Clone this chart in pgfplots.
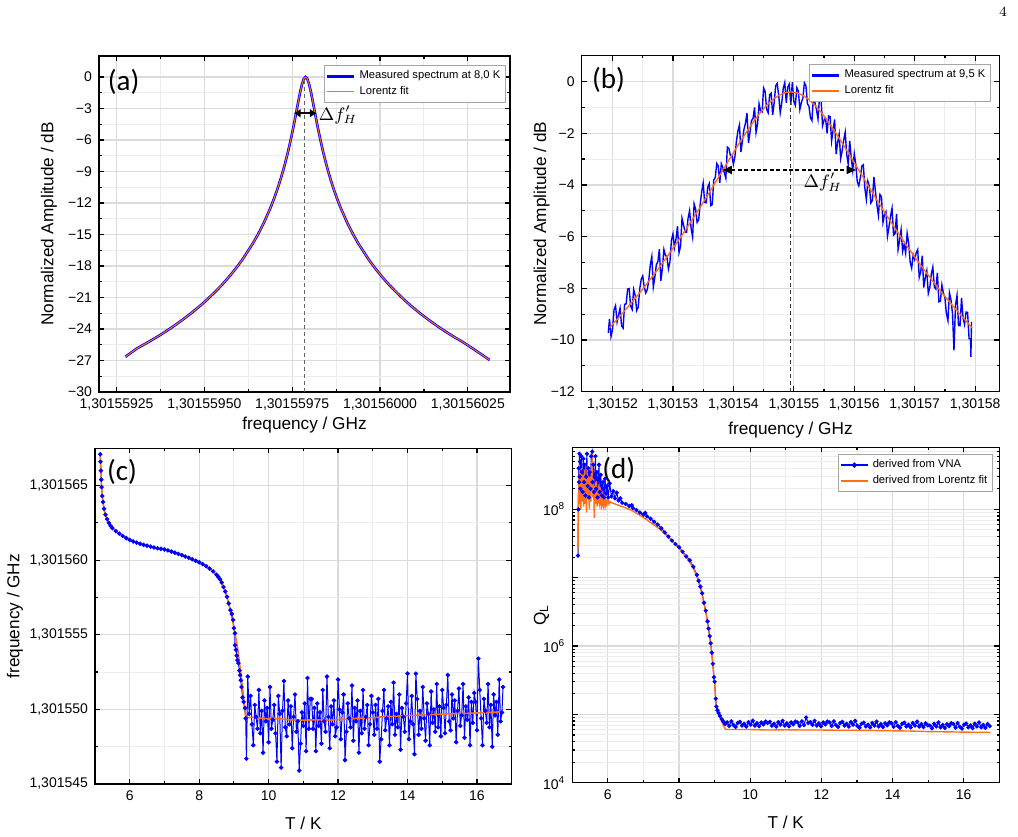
\documentclass[border=0pt]{standalone}
\usepackage{pgfplots}
\pgfplotsset{compat=1.18}
\usepackage{fontspec}
\setmainfont{Liberation Sans}
\newfontfamily\calibri{Carlito}
\usetikzlibrary{arrows.meta}
\definecolor{myblue}{RGB}{0,0,255}
\definecolor{myorange}{RGB}{255,110,25}
\pgfplotsset{
 base/.style={
  scale only axis, anchor=south west,
  axis line style={black, line width=0.7pt},
  tick style={black, line width=0.6pt},
  tick align=inside, major tick length=2.6pt, minor tick length=1.4pt,
  grid=both,
  major grid style={draw=gray!28, line width=0.6pt},
  minor grid style={draw=gray!14, line width=0.45pt},
  tick label style={font=\fontsize{7}{8}\selectfont},
  label style={font=\fontsize{8.6}{10}\selectfont},
  legend cell align=left,
  legend style={font=\fontsize{5.6}{6.5}\selectfont, draw=gray!70, line width=0.4pt, inner sep=0.6pt, row sep=-1.8pt, fill=white},
  legend image code/.code={\draw[mark repeat=2,mark phase=2,#1] plot coordinates {(0pt,0pt) (6.75pt,0pt) (13.5pt,0pt)};},
  /pgf/number format/assume math mode=true,
 },
}
\tikzset{plab/.style={font=\calibri\fontsize{14.5}{16}\selectfont, anchor=center}}
\begin{document}
\begin{tikzpicture}
\useasboundingbox (0,0) rectangle (509pt,418pt);
\node[font=\fontsize{7.5}{9}\selectfont] at (501.5pt,412pt) {$4$};

% ---------------- (a)
\begin{axis}[base, at={(49.5pt,222pt)}, width=205.5pt, height=168pt,
  xmin=20, xmax=137, ymin=-30, ymax=2,
  xtick={25,50,75,100,125},
  xticklabels={{1,30155925},{1,30155950},{1,30155975},{1,30156000},{1,30156025}},
  ytick={-30,-27,-24,-21,-18,-15,-12,-9,-6,-3,0},
  yticklabels={−30,−27,−24,−21,−18,−15,−12,−9,−6,−3,0},
  minor x tick num=1, minor y tick num=1,
  xlabel={frequency / GHz}, ylabel={Normalized Amplitude / dB},
  xlabel style={at={(axis description cs:0.5,-0.098)}, anchor=center},
  ylabel style={at={(axis description cs:-0.122,0.5)}, anchor=center},
  legend style={at={(0.99,0.973)}, anchor=north east},
]
\addlegendimage{color=myblue, line width=1.4pt}
\addlegendentry{Measured spectrum at 8,0 K}
\addlegendimage{color=myorange, line width=0.7pt}
\addlegendentry{Lorentz fit}
\addplot[forget plot, color=myblue, line width=1.3pt] coordinates {
(27.5,-26.65) (30.8,-25.85) (33.8,-25.29) (36.3,-24.80) (38.8,-24.28) (41.3,-23.72) (43.8,-23.12) (46.3,-22.48) (48.8,-21.79) (50.8,-21.19) (52.8,-20.55) (54.8,-19.87) (56.8,-19.12) (58.8,-18.30) (60.8,-17.40) (63.8,-15.85) (65.3,-14.96) (66.8,-13.98) (68.8,-12.47) (69.8,-11.61) (70.8,-10.67) (71.8,-9.62) (72.8,-8.45) (73.8,-7.13) (74.8,-5.64) (75.3,-4.83) (75.8,-3.98) (76.3,-3.10) (76.8,-2.22) (77.3,-1.38) (77.8,-0.67) (78.3,-0.18) (78.8,0) (79.3,-0.18) (79.8,-0.67) (80.3,-1.38) (80.8,-2.22) (81.3,-3.10) (81.8,-3.98) (82.3,-4.83) (82.8,-5.64) (83.8,-7.13) (84.8,-8.45) (85.8,-9.62) (86.8,-10.67) (87.8,-11.61) (88.8,-12.47) (90.8,-13.98) (92.3,-14.96) (93.8,-15.85) (96.8,-17.40) (98.8,-18.30) (100.8,-19.12) (102.8,-19.87) (104.8,-20.55) (106.8,-21.19) (108.8,-21.79) (111.3,-22.48) (113.8,-23.12) (116.3,-23.72) (118.8,-24.28) (121.3,-24.80) (123.8,-25.29) (126.8,-25.95) (131.2,-26.95)
};
\addplot[forget plot, color=myorange, line width=0.5pt] coordinates {
(27.5,-26.65) (30.8,-25.85) (33.8,-25.29) (36.3,-24.80) (38.8,-24.28) (41.3,-23.72) (43.8,-23.12) (46.3,-22.48) (48.8,-21.79) (50.8,-21.19) (52.8,-20.55) (54.8,-19.87) (56.8,-19.12) (58.8,-18.30) (60.8,-17.40) (63.8,-15.85) (65.3,-14.96) (66.8,-13.98) (68.8,-12.47) (69.8,-11.61) (70.8,-10.67) (71.8,-9.62) (72.8,-8.45) (73.8,-7.13) (74.8,-5.64) (75.3,-4.83) (75.8,-3.98) (76.3,-3.10) (76.8,-2.22) (77.3,-1.38) (77.8,-0.67) (78.3,-0.18) (78.8,0) (79.3,-0.18) (79.8,-0.67) (80.3,-1.38) (80.8,-2.22) (81.3,-3.10) (81.8,-3.98) (82.3,-4.83) (82.8,-5.64) (83.8,-7.13) (84.8,-8.45) (85.8,-9.62) (86.8,-10.67) (87.8,-11.61) (88.8,-12.47) (90.8,-13.98) (92.3,-14.96) (93.8,-15.85) (96.8,-17.40) (98.8,-18.30) (100.8,-19.12) (102.8,-19.87) (104.8,-20.55) (106.8,-21.19) (108.8,-21.79) (111.3,-22.48) (113.8,-23.12) (116.3,-23.72) (118.8,-24.28) (121.3,-24.80) (123.8,-25.29) (126.8,-25.95) (131.2,-26.95)
};
\draw[gray!80!black, line width=0.6pt, dash pattern=on 2pt off 1.5pt] (axis cs:78.5,-30) -- (axis cs:78.5,-0.3);
\draw[black, line width=1pt, {Latex[length=3.5pt,width=4.5pt]}-{Latex[length=3.5pt,width=4.5pt]}] (axis cs:75.4,-3.45) -- (axis cs:82.0,-3.45);
\node[anchor=west, font=\fontsize{9}{10}\selectfont, inner sep=0.5pt] at (axis cs:82.2,-3.6) {$\Delta f'_H$};
\node[plab] at (rel axis cs:0.06,0.924) {(a)};
\end{axis}

% ---------------- (b)
\begin{axis}[base, at={(290.85pt,222.15pt)}, width=208.8pt, height=168pt,
  xmin=1.49, xmax=8.40, ymin=-12, ymax=1,
  xtick={2,3,4,5,6,7,8},
  xticklabels={{1,30152},{1,30153},{1,30154},{1,30155},{1,30156},{1,30157},{1,30158}},
  ytick={-12,-10,-8,-6,-4,-2,0},
  yticklabels={−12,−10,−8,−6,−4,−2,0},
  minor x tick num=1, minor y tick num=1,
  xlabel={frequency / GHz}, ylabel={Normalized Amplitude / dB},
  xlabel style={at={(axis description cs:0.5,-0.114)}, anchor=center},
  ylabel style={at={(axis description cs:-0.096,0.5)}, anchor=center},
  legend style={at={(0.98,0.975)}, anchor=north east},
]
\addlegendimage{color=myblue, line width=1.3pt}
\addlegendentry{Measured spectrum at 9,5 K}
\addlegendimage{color=myorange, line width=0.9pt}
\addlegendentry{Lorentz fit}
\addplot[forget plot, color=myblue, line width=0.7pt] coordinates {
(1.93,-9.72) (1.95,-9.18) (1.975,-9.86) (2.00,-9.60) (2.025,-8.83) (2.05,-8.67) (2.075,-9.30) (2.10,-9.04) (2.125,-8.77) (2.15,-9.45) (2.175,-9.54) (2.20,-8.62) (2.225,-8.60) (2.25,-8.03) (2.275,-8.01) (2.30,-8.69) (2.325,-8.82) (2.35,-8.05) (2.375,-8.28) (2.40,-8.86) (2.425,-8.74) (2.45,-8.02) (2.475,-7.65) (2.50,-7.52) (2.525,-7.95) (2.55,-8.18) (2.575,-8.05) (2.60,-7.68) (2.625,-7.10) (2.65,-6.77) (2.675,-7.95) (2.70,-7.57) (2.725,-7.09) (2.75,-6.97) (2.775,-6.49) (2.80,-7.71) (2.825,-7.23) (2.85,-6.50) (2.875,-6.72) (2.90,-6.79) (2.925,-7.25) (2.95,-6.97) (2.975,-6.14) (3.00,-5.90) (3.025,-6.42) (3.05,-6.09) (3.075,-5.60) (3.10,-6.62) (3.125,-6.38) (3.15,-5.29) (3.175,-5.55) (3.20,-5.82) (3.225,-5.83) (3.25,-5.29) (3.275,-5.00) (3.30,-5.66) (3.325,-6.02) (3.35,-4.73) (3.375,-4.94) (3.40,-5.45) (3.425,-5.35) (3.45,-4.76) (3.475,-4.27) (3.50,-3.93) (3.525,-4.68) (3.55,-4.69) (3.575,-4.09) (3.60,-3.95) (3.625,-4.80) (3.65,-4.76) (3.675,-3.81) (3.70,-3.71) (3.725,-3.17) (3.75,-3.27) (3.775,-3.92) (3.80,-3.18) (3.825,-3.33) (3.85,-3.53) (3.875,-3.74) (3.90,-2.54) (3.925,-2.59) (3.95,-2.85) (3.975,-2.85) (4.00,-3.20) (4.025,-2.91) (4.05,-2.31) (4.075,-1.92) (4.10,-1.68) (4.125,-2.73) (4.15,-2.29) (4.175,-1.85) (4.20,-1.61) (4.225,-1.22) (4.25,-2.38) (4.275,-1.95) (4.30,-1.51) (4.325,-1.43) (4.35,-1.00) (4.375,-1.97) (4.40,-1.64) (4.425,-0.86) (4.45,-1.14) (4.475,-1.17) (4.50,-0.25) (4.525,-0.39) (4.55,-1.07) (4.575,-1.21) (4.60,-0.51) (4.625,-0.45) (4.65,-1.30) (4.675,-0.81) (4.70,-0.16) (4.725,-0.07) (4.75,-0.54) (4.775,-1.21) (4.80,-0.83) (4.825,-0.26) (4.85,-0.04) (4.875,-0.82) (4.90,-0.21) (4.925,-0.10) (4.95,-0.90) (4.975,-0.02) (5.00,-0.76) (5.025,-0.92) (5.05,-0.24) (5.075,-0.36) (5.10,-1.08) (5.125,-0.81) (5.15,-0.64) (5.175,-0.05) (5.20,-0.16) (5.225,-0.86) (5.25,-0.95) (5.275,-1.40) (5.30,-1.51) (5.325,-0.56) (5.35,-0.82) (5.375,-1.09) (5.40,-1.45) (5.425,-0.62) (5.45,-0.64) (5.475,-1.71) (5.50,-1.49) (5.525,-1.42) (5.55,-2.00) (5.575,-1.33) (5.60,-1.36) (5.625,-2.30) (5.65,-1.88) (5.675,-1.47) (5.70,-2.81) (5.725,-2.35) (5.75,-2.04) (5.775,-2.98) (5.80,-2.68) (5.825,-2.27) (5.85,-1.96) (5.875,-2.81) (5.90,-3.20) (5.925,-2.30) (5.95,-2.95) (5.975,-3.44) (6.00,-2.79) (6.025,-3.19) (6.05,-3.88) (6.075,-4.03) (6.10,-3.73) (6.125,-3.27) (6.15,-3.22) (6.175,-4.12) (6.20,-4.56) (6.225,-3.86) (6.25,-4.06) (6.275,-4.70) (6.30,-4.60) (6.325,-3.69) (6.35,-4.24) (6.375,-4.78) (6.40,-5.18) (6.425,-4.37) (6.45,-4.46) (6.475,-5.45) (6.50,-5.15) (6.525,-5.04) (6.55,-5.98) (6.575,-5.62) (6.60,-5.21) (6.625,-4.90) (6.65,-5.94) (6.675,-5.88) (6.70,-5.12) (6.725,-6.50) (6.75,-6.14) (6.775,-5.73) (6.80,-6.57) (6.825,-6.30) (6.85,-6.64) (6.875,-5.87) (6.90,-6.25) (6.925,-6.99) (6.95,-7.22) (6.975,-6.70) (7.00,-6.89) (7.025,-6.62) (7.05,-6.50) (7.075,-7.58) (7.10,-7.36) (7.125,-6.74) (7.15,-7.97) (7.175,-7.59) (7.20,-7.32) (7.225,-8.20) (7.25,-7.97) (7.275,-7.45) (7.30,-7.18) (7.325,-7.95) (7.35,-8.03) (7.375,-7.40) (7.40,-8.52) (7.425,-8.50) (7.45,-7.87) (7.475,-8.19) (7.50,-8.36) (7.525,-8.98) (7.55,-9.25) (7.575,-8.17) (7.60,-8.44) (7.625,-8.96) (7.65,-10.4) (7.675,-8.65) (7.70,-8.27) (7.725,-9.44) (7.75,-9.45) (7.775,-8.37) (7.80,-9.14) (7.825,-9.40) (7.85,-8.92) (7.875,-8.93) (7.90,-9.95) (7.925,-9.96) (7.93,-10.65) (7.94,-9.3)
};
\addplot[forget plot, color=myorange, line width=0.7pt] coordinates {
(1.95,-9.525) (2.05,-9.267) (2.15,-9.003) (2.25,-8.732) (2.35,-8.454) (2.45,-8.169) (2.55,-7.876) (2.65,-7.574) (2.75,-7.265) (2.85,-6.947) (2.95,-6.621) (3.05,-6.286) (3.15,-5.942) (3.25,-5.590) (3.35,-5.230) (3.45,-4.862) (3.55,-4.487) (3.65,-4.106) (3.75,-3.720) (3.85,-3.333) (3.95,-2.946) (4.05,-2.564) (4.15,-2.190) (4.25,-1.832) (4.35,-1.496) (4.45,-1.189) (4.55,-0.922) (4.65,-0.701) (4.75,-0.536) (4.85,-0.435) (4.95,-0.400) (5.05,-0.435) (5.15,-0.536) (5.25,-0.701) (5.35,-0.922) (5.45,-1.189) (5.55,-1.496) (5.65,-1.832) (5.75,-2.190) (5.85,-2.564) (5.95,-2.946) (6.05,-3.333) (6.15,-3.720) (6.25,-4.106) (6.35,-4.487) (6.45,-4.862) (6.55,-5.230) (6.65,-5.590) (6.75,-5.942) (6.85,-6.286) (6.95,-6.621) (7.05,-6.947) (7.15,-7.265) (7.25,-7.574) (7.35,-7.876) (7.45,-8.169) (7.55,-8.454) (7.65,-8.732) (7.75,-9.003) (7.85,-9.267) (7.95,-9.525)
};
\draw[black!80, line width=0.6pt, dash pattern=on 2pt off 1.5pt] (axis cs:4.945,-12) -- (axis cs:4.945,-0.4);
\draw[black, line width=0.6pt, dash pattern=on 2pt off 1.2pt, {Latex[length=5pt,width=4.5pt]}-{Latex[length=5pt,width=4.5pt]}] (axis cs:3.81,-3.42) -- (axis cs:6.04,-3.42);
\node[anchor=center, font=\fontsize{9}{10}\selectfont] at (axis cs:5.48,-3.9) {$\Delta f'_H$};
\node[plab] at (rel axis cs:0.064,0.928) {(b)};
\end{axis}

% ---------------- (c)
\begin{axis}[base, at={(47.5pt,26pt)}, width=208.35pt, height=167.85pt,
  xmin=5, xmax=17, ymin=45, ymax=67.5,
  xtick={6,8,10,12,14,16},
  ytick={45,50,55,60,65},
  yticklabels={{1,301545},{1,301550},{1,301555},{1,301560},{1,301565}},
  minor x tick num=1, minor y tick num=1,
  xlabel={T / K}, ylabel={frequency / GHz},
  xlabel style={at={(axis description cs:0.5,-0.116)}, anchor=center},
  ylabel style={at={(axis description cs:-0.192,0.5)}, anchor=center},
]
\addplot[color=myblue, line width=0.5pt, mark=*, mark size=0.85pt, mark options={fill=myblue, draw=myblue}] coordinates {
(5.15,67.1) (5.16,66.6) (5.17,66.0) (5.18,65.4) (5.19,64.9) (5.21,64.3) (5.23,63.9) (5.26,63.45) (5.30,63.05) (5.35,62.75) (5.40,62.5) (5.45,62.3) (5.50,62.15) (5.60,61.95) (5.70,61.78) (5.80,61.62) (5.90,61.48) (6.00,61.36) (6.10,61.26) (6.20,61.18) (6.30,61.10) (6.40,61.03) (6.50,60.97) (6.60,60.91) (6.70,60.85) (6.80,60.80) (6.90,60.76) (7.00,60.72) (7.10,60.66) (7.20,60.58) (7.30,60.50) (7.40,60.42) (7.50,60.34) (7.60,60.25) (7.70,60.16) (7.80,60.06) (7.90,59.96) (8.00,59.86) (8.10,59.74) (8.20,59.60) (8.30,59.44) (8.40,59.25) (8.50,59.02) (8.55,58.88) (8.60,58.72) (8.65,58.50) (8.70,58.20) (8.75,57.90) (8.80,57.55) (8.85,57.10) (8.90,56.65) (8.94,56.40) (8.98,56.00) (9.00,55.45) (9.03,55.10) (9.03,54.30) (9.06,54.00) (9.08,53.60) (9.10,53.30) (9.13,53.10) (9.16,52.60) (9.18,52.30) (9.20,51.95) (9.22,51.50) (9.25,50.80) (9.28,50.50) (9.32,50.10) (9.34,49.40)
(9.36,46.7) (9.40,52.2) (9.44,49.7) (9.48,50.9) (9.52,49.0) (9.56,47.6) (9.60,50.3) (9.64,49.5) (9.68,48.7) (9.72,51.3) (9.76,48.4) (9.80,49.9) (9.84,47.1) (9.88,50.6) (9.92,49.2) (9.96,50.1) (10.00,47.8) (10.04,51.5) (10.08,48.7) (10.12,49.3) (10.16,50.3) (10.20,48.4) (10.24,46.5) (10.28,50.9) (10.32,49.7) (10.36,46.1) (10.40,49.9) (10.44,51.9) (10.48,48.8) (10.52,48.2) (10.56,50.6) (10.60,49.0) (10.64,50.2) (10.68,47.4) (10.72,49.5) (10.76,51.0) (10.80,48.5) (10.84,49.2) (10.88,45.9) (10.92,47.7) (10.96,49.8) (11.00,48.9) (11.04,50.4) (11.08,47.2) (11.12,52.1) (11.16,48.7) (11.20,50.7)
(11.24,50.7) (11.28,48.7) (11.32,50.1) (11.36,47.2) (11.40,50.4) (11.44,48.9) (11.48,49.8) (11.52,47.7) (11.56,51.3) (11.60,49.2) (11.64,48.5) (11.68,52.2) (11.72,49.5) (11.76,47.4) (11.80,50.2) (11.84,49.0) (11.88,50.6) (11.92,48.2) (11.96,48.8) (12.00,52.0) (12.04,50.0) (12.08,48.0) (12.12,49.8) (12.16,51.0) (12.20,46.6) (12.24,48.5) (12.28,50.4) (12.32,49.4) (12.36,48.8) (12.40,51.6) (12.44,47.9) (12.48,50.1) (12.52,49.2) (12.56,50.6) (12.60,47.1) (12.64,49.9) (12.68,48.4) (12.72,51.3) (12.76,48.7) (12.80,49.5) (12.84,50.3) (12.88,47.6) (12.92,49.0) (12.96,50.9) (13.00,49.8) (13.04,48.3) (13.08,50.3)
(13.12,48.7) (13.16,50.7) (13.20,46.5) (13.24,48.0) (13.28,49.9) (13.32,51.3) (13.36,48.6) (13.40,49.4) (13.44,50.2) (13.48,47.6) (13.52,50.5) (13.56,49.0) (13.60,51.8) (13.64,48.3) (13.68,49.7) (13.72,48.8) (13.76,51.0) (13.80,47.3) (13.84,50.1) (13.88,49.5) (13.92,48.5) (13.96,50.4) (14.00,52.4) (14.04,48.0) (14.08,49.2) (14.12,50.9) (14.16,49.0) (14.20,47.0) (14.24,52.4) (14.28,50.7) (14.32,48.3) (14.36,49.9) (14.40,48.7) (14.44,51.5) (14.48,49.4) (14.52,47.9) (14.56,50.4) (14.60,49.7) (14.64,47.6) (14.68,51.2) (14.72,49.1) (14.76,50.0) (14.80,48.5) (14.84,51.7) (14.88,48.8) (14.92,50.2) (14.96,48.2)
(15.00,51.3) (15.04,50.1) (15.08,48.4) (15.12,50.3) (15.16,52.3) (15.20,49.2) (15.24,48.6) (15.28,51.0) (15.32,49.4) (15.36,50.6) (15.40,47.8) (15.44,49.9) (15.48,51.4) (15.52,48.9) (15.56,49.6) (15.60,51.7) (15.64,48.1) (15.68,50.2) (15.72,49.3) (15.76,50.8) (15.80,47.6) (15.84,50.5) (15.88,49.1) (15.92,51.1) (15.96,50.5) (16.00,48.6) (16.04,53.4) (16.08,51.3) (16.12,49.4) (16.16,47.6) (16.20,50.7) (16.24,49.9) (16.28,49.1) (16.32,51.7) (16.36,48.8) (16.40,50.3) (16.44,47.5) (16.48,51.0) (16.52,49.6) (16.56,50.5) (16.60,48.3) (16.64,52.0) (16.68,49.2) (16.72,49.8) (16.75,51.5)
};
\addplot[color=myorange, line width=0.8pt] coordinates {
(5.15,67.1) (5.17,66.0) (5.19,64.9) (5.21,64.3) (5.23,63.9) (5.26,63.45) (5.30,63.05) (5.35,62.75) (5.40,62.5) (5.50,62.15) (5.60,61.95) (5.70,61.78) (5.80,61.62) (6.00,61.36) (6.20,61.18) (6.40,61.03) (6.60,60.91) (6.80,60.80) (7.00,60.72) (7.20,60.58) (7.40,60.42) (7.60,60.25) (7.80,60.06) (8.00,59.86) (8.20,59.60) (8.40,59.25) (8.50,59.02) (8.60,58.72) (8.70,58.20) (8.80,57.55) (8.90,56.65) (9.00,55.50) (9.10,54.20) (9.20,52.40) (9.27,51.00) (9.30,50.20) (9.34,49.55) (9.40,49.45) (9.60,49.48) (9.80,49.40) (10.0,49.35) (10.3,49.38) (10.6,49.30) (11.0,49.28) (11.4,49.30) (11.8,49.28) (12.2,49.35) (12.6,49.40) (13.0,49.45) (13.4,49.52) (13.8,49.56) (14.2,49.60) (14.6,49.64) (15.0,49.68) (15.4,49.72) (15.8,49.74) (16.2,49.78) (16.5,49.80) (16.75,49.85)
};
\node[plab] at (rel axis cs:0.065,0.930) {(c)};
\end{axis}

% ---------------- (d)
\begin{axis}[base, at={(286.15pt,26.65pt)}, width=213.5pt, height=167.7pt,
  xmin=5, xmax=17, ymode=log, ymin=1e4, ymax=8.1e8,
  xtick={6,8,10,12,14,16},
  ytick={1e4,1e5,1e6,1e7,1e8},
  yticklabels={10\textsuperscript{4},,10\textsuperscript{6},,10\textsuperscript{8}},
  minor ytick={2e4,3e4,4e4,5e4,6e4,7e4,8e4,9e4,2e5,3e5,4e5,5e5,6e5,7e5,8e5,9e5,2e6,3e6,4e6,5e6,6e6,7e6,8e6,9e6,2e7,3e7,4e7,5e7,6e7,7e7,8e7,9e7,2e8,3e8,4e8,5e8,6e8,7e8,8e8},
  minor x tick num=1,
  xlabel={T / K}, ylabel={Q\textsubscript{L}},
  xlabel style={at={(axis description cs:0.5,-0.117)}, anchor=center},
  ylabel style={at={(axis description cs:-0.072,0.5)}, anchor=center},
  legend style={at={(0.985,0.980)}, anchor=north east},
]
\addlegendimage{color=myblue, line width=0.8pt, mark=*, mark size=0.9pt, mark options={fill=myblue, draw=myblue}}
\addlegendentry{derived from VNA}
\addlegendimage{color=myorange, line width=0.9pt}
\addlegendentry{derived from Lorentz fit}
\addplot[forget plot, color=myblue, line width=0.5pt, mark=*, mark size=0.8pt, mark options={fill=myblue, draw=myblue}] coordinates {
(5.16,2.1e7) (5.17,1.0e8) (5.18,4.0e8) (5.19,2.5e8) (5.20,6.5e8) (5.21,3.0e8) (5.22,5.0e8) (5.23,2.0e8) (5.25,6.0e8) (5.27,3.5e8) (5.29,1.8e8) (5.31,5.5e8) (5.33,2.5e8) (5.35,4.5e8) (5.37,1.6e8) (5.39,3.0e8) (5.41,6.5e8) (5.43,2.2e8) (5.45,4.0e8) (5.47,1.5e8) (5.49,3.5e8) (5.51,2.0e8) (5.53,6.0e8) (5.56,7.0e8) (5.57,2.5e8) (5.59,4.5e8) (5.61,1.8e8) (5.63,3.0e8) (5.65,6.0e8) (5.67,2.0e8) (5.69,3.5e8) (5.71,1.5e8) (5.73,2.8e8) (5.75,4.5e8) (5.77,1.8e8) (5.80,3.2e8) (5.83,1.6e8) (5.86,2.5e8) (5.89,1.5e8) (5.92,2.8e8) (5.95,1.7e8) (5.98,2.2e8) (6.01,1.5e8) (6.05,2.4e8) (6.10,1.55e8) (6.15,1.85e8) (6.20,1.45e8) (6.25,1.75e8) (6.30,1.35e8) (6.35,1.45e8) (6.40,1.25e8) (6.50,1.2e8) (6.60,1.12e8) (6.67,1.15e8) (6.70,1.05e8) (6.80,9.8e7) (6.90,9.0e7) (7.00,8.4e7) (7.05,8.9e7) (7.10,7.9e7) (7.20,7.3e7) (7.30,6.6e7) (7.40,6.0e7) (7.50,5.3e7) (7.60,4.6e7) (7.70,4.0e7) (7.80,3.5e7) (7.90,3.1e7) (8.00,2.8e7) (8.10,2.4e7) (8.20,2.05e7) (8.30,1.8e7) (8.40,1.45e7) (8.50,1.1e7) (8.55,9.0e6) (8.60,7.4e6) (8.65,5.9e6) (8.70,4.3e6) (8.75,3.3e6) (8.80,2.3e6) (8.83,1.8e6) (8.86,1.4e6) (8.89,1.1e6) (8.92,8.0e5) (8.95,5.5e5) (8.98,3.5e5) (9.00,3.0e5) (9.03,1.7e5) (9.05,1.3e5) (9.08,1.15e5) (9.11,1.05e5) (9.15,9.5e4) (9.20,8.5e4) (9.25,7.8e4) (9.30,7.2e4)
(9.35,7.63e4) (9.41,6.77e4) (9.47,7.92e4) (9.53,6.98e4) (9.59,6.55e4) (9.65,7.49e4) (9.71,7.78e4) (9.77,6.84e4) (9.83,7.27e4) (9.89,6.62e4) (9.95,7.70e4) (10.01,7.06e4) (10.07,8.06e4) (10.13,6.84e4) (10.19,7.42e4) (10.25,6.70e4) (10.31,7.63e4) (10.37,7.13e4) (10.43,7.85e4) (10.49,7.49e4) (10.55,7.78e4) (10.61,6.84e4) (10.67,7.27e4) (10.73,6.62e4) (10.79,7.70e4) (10.85,7.06e4) (10.91,8.06e4) (10.97,6.84e4) (11.03,7.42e4) (11.09,6.70e4) (11.15,7.63e4) (11.21,7.13e4) (11.27,7.85e4) (11.33,7.63e4) (11.39,6.77e4) (11.45,7.92e4) (11.51,6.98e4) (11.57,9.0e4) (11.63,7.49e4) (11.69,7.70e4) (11.75,7.06e4) (11.81,8.06e4) (11.87,6.84e4) (11.93,7.42e4) (11.99,6.70e4) (12.05,7.63e4) (12.11,7.13e4) (12.17,7.85e4) (12.23,7.63e4) (12.29,6.77e4) (12.35,7.92e4) (12.41,6.98e4) (12.47,6.55e4) (12.53,7.49e4) (12.59,7.78e4) (12.65,6.84e4) (12.71,7.27e4) (12.77,6.62e4) (12.83,7.70e4) (12.89,7.06e4) (12.95,8.06e4) (13.01,6.79e4) (13.07,6.37e4) (13.13,7.28e4) (13.19,7.56e4) (13.25,6.65e4) (13.31,7.07e4) (13.37,6.44e4) (13.43,7.49e4) (13.49,6.86e4) (13.55,7.84e4) (13.61,6.65e4) (13.67,7.21e4) (13.73,6.51e4) (13.79,7.42e4) (13.85,6.93e4) (13.91,7.63e4) (13.97,7.42e4) (14.03,6.58e4) (14.09,7.70e4) (14.15,6.79e4) (14.21,6.37e4) (14.27,7.28e4) (14.33,7.56e4) (14.39,6.65e4) (14.45,7.07e4) (14.51,6.44e4) (14.57,7.49e4) (14.63,6.86e4) (14.69,7.84e4) (14.75,6.65e4) (14.81,7.21e4) (14.87,6.51e4) (14.93,7.42e4) (14.99,6.93e4) (15.05,6.87e4) (15.11,6.26e4) (15.17,7.28e4) (15.23,6.66e4) (15.29,7.62e4) (15.35,6.46e4) (15.41,7.00e4) (15.47,6.32e4) (15.53,7.21e4) (15.59,6.73e4) (15.65,7.41e4) (15.71,7.21e4) (15.77,6.39e4) (15.83,7.48e4) (15.89,6.60e4) (15.95,6.19e4) (16.01,7.07e4) (16.07,7.34e4) (16.13,6.46e4) (16.19,6.87e4) (16.25,6.26e4) (16.31,7.28e4) (16.37,6.66e4) (16.43,7.62e4) (16.49,6.46e4) (16.55,7.00e4) (16.61,6.32e4) (16.67,7.21e4) (16.73,6.73e4)
};
\addplot[forget plot, color=myorange, line width=0.7pt] coordinates {
(5.16,2.5e7) (5.17,8.0e7) (5.175,2.2e8) (5.18,3.0e8) (5.19,1.2e8) (5.20,4.5e8) (5.21,1.5e8) (5.22,3.5e8) (5.23,1.8e8) (5.24,1.0e8) (5.25,2.8e8) (5.26,4.0e8) (5.27,1.6e8) (5.28,1.3e8) (5.29,3.2e8) (5.30,2.5e8) (5.31,1.4e8) (5.32,1.1e8) (5.33,2.4e8) (5.34,3.8e8) (5.35,1.7e8) (5.36,1.2e8) (5.37,2.9e8) (5.38,2.2e8) (5.39,1.5e8) (5.40,9.0e7) (5.41,2.0e8) (5.42,4.5e8) (5.43,1.8e8) (5.44,1.4e8) (5.45,3.1e8) (5.46,2.6e8) (5.47,1.3e8) (5.48,1.0e8) (5.49,2.3e8) (5.50,3.0e8) (5.51,1.6e8) (5.52,1.3e8) (5.53,2.7e8) (5.54,5.0e8) (5.55,3.0e8) (5.56,7.5e8) (5.57,2.0e8) (5.58,1.5e8) (5.59,2.2e8) (5.60,2.8e8) (5.61,1.2e8) (5.62,7.5e7) (5.63,1.9e8) (5.64,2.2e8) (5.65,1.4e8) (5.66,1.2e8) (5.67,2.1e8) (5.68,2.6e8) (5.69,1.5e8) (5.70,1.1e8) (5.715,1.9e8) (5.73,2.0e8) (5.745,1.3e8) (5.76,1.2e8) (5.775,2.0e8) (5.79,1.8e8) (5.805,1.25e8) (5.82,1.0e8) (5.835,1.7e8) (5.85,1.6e8) (5.865,1.2e8) (5.88,1.1e8) (5.895,1.6e8) (5.91,1.5e8) (5.93,1.15e8) (5.95,1.35e8) (5.97,1.2e8) (6.00,1.4e8) (6.03,1.2e8) (6.06,1.3e8) (6.10,1.25e8) (6.20,1.2e8) (6.30,1.15e8) (6.40,1.1e8) (6.50,1.05e8) (6.60,1.0e8) (6.70,9.5e7) (6.80,8.8e7) (6.90,8.2e7) (7.00,7.6e7) (7.10,7.0e7) (7.20,6.4e7) (7.30,5.9e7) (7.40,5.4e7) (7.50,4.9e7) (7.60,4.4e7) (7.70,3.9e7) (7.80,3.45e7) (7.90,3.05e7) (8.00,2.7e7) (8.10,2.3e7) (8.20,2.0e7) (8.30,1.7e7) (8.40,1.38e7) (8.50,1.05e7) (8.55,8.6e6) (8.60,7.0e6) (8.65,5.6e6) (8.70,4.2e6) (8.75,3.15e6) (8.80,2.2e6) (8.83,1.7e6) (8.86,1.35e6) (8.89,1.05e6) (8.92,7.6e5) (8.95,5.3e5) (8.98,3.4e5) (9.00,2.8e5) (9.03,1.65e5) (9.05,1.25e5) (9.08,1.1e5) (9.11,1.0e5) (9.15,9.0e4) (9.20,7.8e4) (9.25,6.8e4) (9.30,6.1e4) (9.35,6.0e4) (10.0,6.0e4) (10.5,5.9e4) (11.0,5.95e4) (11.5,5.9e4) (12.0,5.9e4) (12.5,5.85e4) (13.0,5.85e4) (13.5,5.8e4) (14.0,5.75e4) (14.5,5.7e4) (15.0,5.6e4) (15.5,5.55e4) (16.0,5.5e4) (16.5,5.45e4) (16.75,5.45e4)
};
\node[plab] at (rel axis cs:0.109,0.932) {(d)};
\end{axis}
\end{tikzpicture}
\end{document}
